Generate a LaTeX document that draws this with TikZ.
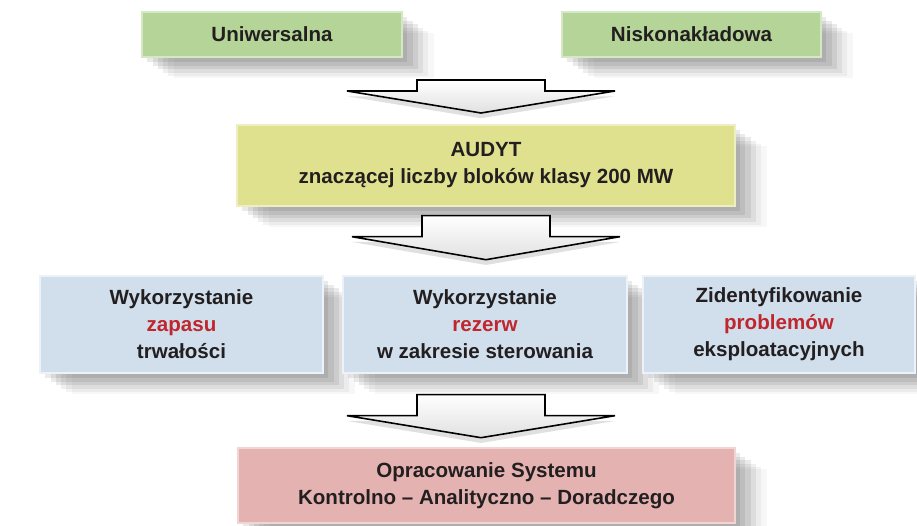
\documentclass[tikz,border=0pt]{standalone}
\usepackage{fontspec}
\setmainfont{Liberation Sans}
\usepackage{tikz}
\usetikzlibrary{shadows,calc}

\definecolor{boxgreen}{RGB}{181,212,152}
\definecolor{boxyellow}{RGB}{223,225,143}
\definecolor{boxblue}{RGB}{208,223,235}
\definecolor{boxpink}{RGB}{229,178,178}
\definecolor{textred}{RGB}{192,38,45}
\definecolor{textdark}{RGB}{35,31,32}

\newcommand{\strzalka}[3]{\draw[block arrow] (#1) ++(-64,0) -- ++(128,0) -- ++(0,#2) -- ++(70,0) -- ++(-134,#3) -- ++(-134,-#3) -- ++(70,0) -- cycle;}
\newcommand{\red}[1]{\textcolor{textred}{#1}}

\begin{document}
\begin{tikzpicture}[x=0.02cm,y=-0.02cm]
		\tikzstyle{box}=[rectangle, inner sep=0pt, align=center, text=textdark,
			font=\bfseries\fontsize{11.7}{15.3}\selectfont,
			drop shadow={shadow xshift=3pt, shadow yshift=-3pt, opacity=.10, fill=black!80},
			drop shadow={shadow xshift=6pt, shadow yshift=-5pt, opacity=.10, fill=black!80},
			drop shadow={shadow xshift=9pt, shadow yshift=-7pt, opacity=.10, fill=black!80},
			drop shadow={shadow xshift=12pt, shadow yshift=-9pt, opacity=.08, fill=black!80},
			drop shadow={shadow xshift=15pt, shadow yshift=-11pt, opacity=.06, fill=black!80},
			drop shadow={shadow xshift=18pt, shadow yshift=-12pt, opacity=.04, fill=black!80}]
		\tikzstyle{green box}=[box, fill=boxgreen, draw=boxgreen!55!white, line width=0.8pt, minimum height=0.9cm]
		\tikzstyle{yellow box}=[box, fill=boxyellow, draw=boxyellow!55!white, line width=0.8pt, minimum height=1.62cm]
		\tikzstyle{blue box}=[box, fill=boxblue, draw=boxblue!40!white, line width=0.8pt, minimum height=1.94cm]
		\tikzstyle{pink box}=[box, fill=boxpink, draw=boxpink!55!white, line width=0.8pt, minimum height=1.5cm]
		\tikzstyle{block arrow}=[draw=black, line width=0.9pt, line join=miter, top color=white, bottom color=black!12,
			drop shadow={shadow xshift=0pt, shadow yshift=-3pt, opacity=.12, fill=black}]

		\useasboundingbox (0,0) rectangle (917,526);

		% top row
		\node [green box, minimum width=5.2cm] (uni) at (272,34.5) {Uniwersalna};
		\node [green box, minimum width=5.18cm] (nisko) at (691.5,34.5) {Niskonakładowa};

		\node [yellow box, minimum width=9.96cm] (audyt) at (486,165.5) {AUDYT\\znaczącej liczby bloków klasy 200 MW};

		% three directions
		\node [blue box, minimum width=5.66cm] (zapas) at (181.5,324.5) {Wykorzystanie\\\red{zapasu}\\trwałości};
		\node [blue box, minimum width=5.68cm] (rezerwy) at (485,324.5) {Wykorzystanie\\\red{rezerw}\\w zakresie sterowania};
		\node [blue box, minimum width=5.44cm] (problemy) at (779,324.5) {Zidentyfikowanie\\\red{problemów}\\eksploatacyjnych};

		\node [pink box, minimum width=9.94cm] (system) at (486.5,485.5) {Opracowanie Systemu\\Kontrolno -- Analityczno -- Doradczego};

		% arrows between the rows
		\coordinate (s1) at (481,80);
		\coordinate (s2) at ($(audyt.south)+(0,9)$);
		\coordinate (s3) at ($(rezerwy.south)+(-4,21)$);
		\strzalka{s1}{11}{22}
		\strzalka{s2}{21}{23}
		\strzalka{s3}{21}{22}
	\end{tikzpicture}
\end{document}
